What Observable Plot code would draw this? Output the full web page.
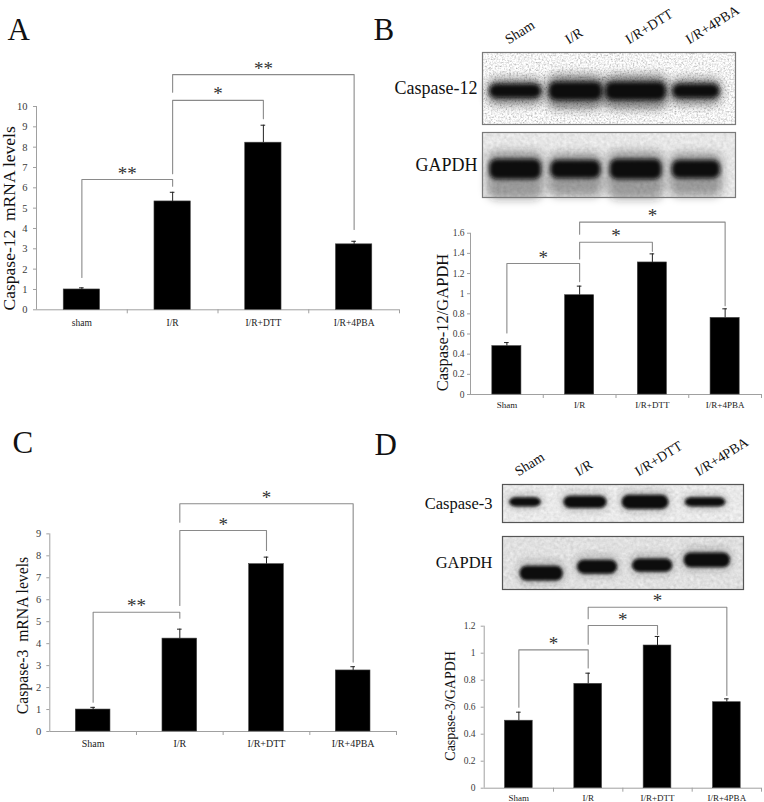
<!DOCTYPE html>
<html><head><meta charset="utf-8">
<script src="https://cdn.jsdelivr.net/npm/d3@7"></script>
<script src="https://cdn.jsdelivr.net/npm/@observablehq/plot@0.6"></script>
<style>
body{margin:0;background:#fff;}
#fig{position:relative;width:764px;height:802px;overflow:hidden;background:#fff;}
</style></head><body><div id="fig"></div>
<script>
// ---------- data ----------
const categoriesA = ["sham", "I/R", "I/R+DTT", "I/R+4PBA"];
const categories = ["Sham", "I/R", "I/R+DTT", "I/R+4PBA"];

// A: Caspase-12 mRNA
const meanA = [1.00, 5.33, 8.22, 3.22];
const seA = [0.08, 0.45, 0.86, 0.15];
const ticksA = [0, 1, 2, 3, 4, 5, 6, 7, 8, 9, 10];
const bracketsA = [
  {a: 0, b: 1, y: 6.41, ya: 1.59, yb: 6.08, label: "**"},
  {a: 1, b: 2, y: 10.3, ya: 6.69, yb: 9.4, label: "*"},
  {a: 1, b: 3, y: 11.57, ya: 10.7, yb: 3.95, label: "**"}
];
// B: Caspase-12/GAPDH
const meanB = [0.48, 0.985, 1.31, 0.76];
const seB = [0.035, 0.09, 0.085, 0.09];
const ticksB = [0, 0.2, 0.4, 0.6, 0.8, 1, 1.2, 1.4, 1.6];
const bracketsB = [
  {a: 0, b: 1, y: 1.30, ya: 0.61, yb: 1.12, label: "*"},
  {a: 1, b: 2, y: 1.51, ya: 1.345, yb: 1.42, label: "*"},
  {a: 1, b: 3, y: 1.71, ya: 1.59, yb: 0.88, label: "*"}
];
// C: Caspase-3 mRNA
const meanC = [1.00, 4.23, 7.62, 2.78];
const seC = [0.10, 0.43, 0.32, 0.17];
const ticksC = [0, 1, 2, 3, 4, 5, 6, 7, 8, 9];
const bracketsC = [
  {a: 0, b: 1, y: 5.43, ya: 1.33, yb: 5.16, label: "**"},
  {a: 1, b: 2, y: 9.15, ya: 5.74, yb: 8.24, label: "*"},
  {a: 1, b: 3, y: 10.37, ya: 9.53, yb: 3.16, label: "*"}
];
// D: Caspase-3/GAPDH
const meanD = [0.50, 0.773, 1.057, 0.637];
const seD = [0.063, 0.079, 0.067, 0.025];
const ticksD = [0, 0.2, 0.4, 0.6, 0.8, 1, 1.2];
const bracketsD = [
  {a: 0, b: 1, y: 1.025, ya: 0.60, yb: 0.89, label: "*"},
  {a: 1, b: 2, y: 1.205, ya: 1.066, yb: 1.138, label: "*"},
  {a: 1, b: 3, y: 1.34, ya: 1.255, yb: 0.687, label: "*"}
];

// Western blot band read-outs (width in lanes, thickness / centre as fraction of strip, lane shift)
const casp12Width = [0.86, 0.88, 1.0, 0.78];
const casp12Thick = [0.19, 0.25, 0.25, 0.19];
const casp12Centre = [0.46, 0.46, 0.46, 0.46];
const gapdhBWidth = [0.86, 0.83, 0.86, 0.80];
const gapdhBThick = [0.31, 0.28, 0.31, 0.28];
const gapdhBCentre = [0.43, 0.43, 0.43, 0.43];
const casp3Width = [0.53, 0.72, 0.78, 0.68];
const casp3Thick = [0.24, 0.32, 0.37, 0.24];
const casp3Centre = [0.53, 0.53, 0.53, 0.53];
const gapdhDWidth = [0.72, 0.67, 0.67, 0.77];
const gapdhDThick = [0.28, 0.26, 0.25, 0.28];
const gapdhDCentre = [0.30, 0.42, 0.45, 0.55];
const gapdhDShift = [0.27, 0.20, 0.12, 0.03];

// ---------- helpers ----------
const SERIF = '"Liberation Serif", "DejaVu Serif", "Times New Roman", serif';
const AXIS = "#a0a0a0";
const BR = "#8a8a8a";
const LANE_ROT = -32;
const fmt = d => String(+d.toFixed(1));
const fig = document.getElementById("fig");

function place(svg, left, top) {
  svg.style.position = "absolute";
  svg.style.left = left + "px";
  svg.style.top = top + "px";
  svg.style.overflow = "visible";
  svg.style.background = "transparent";
  fig.appendChild(svg);
}
function addDefs(svg, markup) {
  const defs = document.createElementNS("http://www.w3.org/2000/svg", "defs");
  defs.innerHTML = markup;
  svg.insertBefore(defs, svg.firstChild);
}

function barPanel(p) {
  const lanePx = (p.axisRight - p.axisX) / 4;
  const frameTop = p.y0 - p.yMax * p.ppu;
  const mt = frameTop - p.top, mb = p.top + p.height - p.y0;
  const ml = p.axisX - p.left, mr = p.left + p.width - p.axisRight;
  const rows = p.mean.map((v, i) => ({i, v, e: v + p.se[i]}));
  const tickLen = 3 / lanePx;
  const capHalf = 2.3 / lanePx;
  const pts = p.brackets.flatMap((b, k) => [
    {k, x: b.a, y: b.ya}, {k, x: b.a, y: b.y}, {k, x: b.b, y: b.y}, {k, x: b.b, y: b.yb}
  ]);
  const topTick = p.ticks[p.ticks.length - 1];
  const marks = [
    Plot.ruleY([0], {x1: -0.5, x2: 3.5, stroke: AXIS}),
    Plot.ruleX([-0.5], {y1: 0, y2: topTick, stroke: AXIS}),
    Plot.ruleY(p.ticks, {y: d => d, x1: -0.5 - tickLen, x2: -0.5, stroke: AXIS}),
    Plot.ruleX([0.5, 1.5, 2.5, 3.5], {x: d => d, y1: 0, y2: -4 / p.ppu, stroke: AXIS}),
    Plot.text(p.ticks, {x: -0.5, y: d => d, text: fmt, textAnchor: "end", dx: p.tickDx, fontSize: p.tickFont, fill: "#3a3a3a"}),
    Plot.text(p.cats, {x: (d, i) => i, y: 0, text: d => d, dy: p.catDy, fontSize: p.catFont, fill: "#222"}),
    Plot.rect(rows, {x1: d => d.i - 0.2, x2: d => d.i + 0.2, y1: 0, y2: "v", fill: "#000", stroke: "#444", strokeWidth: 0.6}),
    Plot.ruleX(rows, {x: "i", y1: "v", y2: "e", stroke: "#222"}),
    Plot.ruleY(rows, {y: "e", x1: d => d.i - capHalf, x2: d => d.i + capHalf, stroke: "#222"}),
    Plot.line(pts, {x: "x", y: "y", z: "k", stroke: BR, strokeWidth: 1.1}),
    Plot.text(p.brackets, {x: d => (d.a + d.b) / 2, y: "y", text: "label", dy: -6, fontSize: p.starFont, fill: "#333"}),
    Plot.text([p.ylabel], {x: -0.5, y: p.labelY, text: d => d, rotate: -90, dx: p.labelDx, fontSize: p.labelFont, fill: "#111"})
  ];
  if (p.letter) marks.push(Plot.text([p.letter.t], {frameAnchor: "top-left", text: d => d, textAnchor: "start", lineAnchor: "top",
    dx: p.letter.x - p.axisX, dy: p.letter.y - frameTop, fontSize: 31, fill: "#111"}));
  const svg = Plot.plot({
    width: p.width, height: p.height,
    marginLeft: ml, marginRight: mr, marginTop: mt, marginBottom: mb,
    x: {domain: [-0.5, 3.5], axis: null},
    y: {domain: [0, p.yMax], axis: null},
    style: {fontFamily: SERIF, background: "transparent", color: "#222"},
    marks
  });
  place(svg, p.left, p.top);
}

function blotStrip(b, id) {
  const [bx0, by0, bx1, by1] = b.box;
  const ml = bx0 - b.left, mr = b.left + b.width - bx1, mt = by0 - b.top, mb = b.top + b.height - by1;
  const bands = b.width_.map((w, i) => ({x: i + (b.shift ? b.shift[i] : 0), w, h: b.thick[i], cy: b.centre[i]}));
  const marks = [
    Plot.frame({fill: b.bg, stroke: "none"}),
    Plot.rect(bands, {x1: d => d.x - d.w / 2 - 0.04, x2: d => d.x + d.w / 2 + 0.04,
      y1: d => d.cy - d.h * b.haloDown, y2: d => d.cy + d.h * 0.9, fill: "#222", fillOpacity: b.haloOpacity, rx: 10}),
    Plot.rect(bands, {x1: d => d.x - d.w / 2, x2: d => d.x + d.w / 2,
      y1: d => d.cy - d.h / 2, y2: d => d.cy + d.h / 2, fill: "#080808", rx: 7}),
    Plot.frame({stroke: b.border, strokeWidth: 1.2}),
    Plot.text([b.rowLabel], {frameAnchor: "left", text: d => d, textAnchor: "end", dx: b.rowDx, fontSize: b.rowFont, fill: "#111"})
  ];
  if (b.laneLabels) marks.push(Plot.text(categories, {x: (d, i) => i, y: 1, text: d => d, rotate: LANE_ROT,
    textAnchor: "start", lineAnchor: "bottom", dx: -7, dy: -8, fontSize: 14, fill: "#111"}));
  if (b.letter) marks.push(Plot.text([b.letter.t], {frameAnchor: "top-left", text: d => d, textAnchor: "start", lineAnchor: "top",
    dx: b.letter.x - bx0, dy: b.letter.y - by0, fontSize: 31, fill: "#111"}));
  const svg = Plot.plot({
    width: b.width, height: b.height,
    marginLeft: ml, marginRight: mr, marginTop: mt, marginBottom: mb,
    x: {domain: b.laneDomain, axis: null},
    y: {domain: [0, 1], axis: null},
    style: {fontFamily: SERIF, background: "transparent", color: "#111"},
    marks
  });
  const lo = b.noiseLo, hi = b.noiseHi;
  addDefs(svg, `
    <filter id="nz${id}" x="0" y="0" width="1" height="1">
      <feTurbulence type="fractalNoise" baseFrequency="${b.noiseFreq}" numOctaves="2" seed="${id * 7 + 3}" result="n"/>
      <feColorMatrix in="n" type="matrix" values="0.33 0.33 0.33 0 0  0.33 0.33 0.33 0 0  0.33 0.33 0.33 0 0  0 0 0 0 1" result="g"/>
      <feComponentTransfer in="g" result="c">
        <feFuncR type="linear" slope="${hi}" intercept="${lo}"/>
        <feFuncG type="linear" slope="${hi}" intercept="${lo}"/>
        <feFuncB type="linear" slope="${hi}" intercept="${lo}"/>
      </feComponentTransfer>
      <feComposite in="c" in2="SourceGraphic" operator="in"/>
    </filter>
    <filter id="bh${id}" x="-50%" y="-150%" width="200%" height="400%"><feGaussianBlur stdDeviation="${b.haloBlur}"/></filter>
    <filter id="bc${id}" x="-50%" y="-150%" width="200%" height="400%"><feGaussianBlur stdDeviation="${b.coreBlur}"/></filter>`);
  const frames = svg.querySelectorAll('[aria-label="frame"]');
  if (frames[0]) frames[0].setAttribute("filter", `url(#nz${id})`);
  const rects = svg.querySelectorAll('[aria-label="rect"]');
  if (rects[0]) rects[0].setAttribute("filter", `url(#bh${id})`);
  if (rects[1]) rects[1].setAttribute("filter", `url(#bc${id})`);
  place(svg, b.left, b.top);
}

// ---------- panels ----------
barPanel({cats: categoriesA, mean: meanA, se: seA, ticks: ticksA, brackets: bracketsA,
  left: 0, top: 0, width: 400, height: 335, axisX: 36, axisRight: 399, y0: 309.3, ppu: 20.33, yMax: 12.6,
  tickFont: 10.5, tickDx: -9, catFont: 9.5, catDy: 12.7, starFont: 19,
  ylabel: "Caspase-12  mRNA levels", labelY: 4.5, labelDx: -27.5, labelFont: 17.5,
  letter: {t: "A", x: 7, y: 17}});

barPanel({cats: categories, mean: meanB, se: seB, ticks: ticksB, brackets: bracketsB,
  left: 382, top: 200, width: 382, height: 215, axisX: 470, axisRight: 761, y0: 394, ppu: 100.8, yMax: 1.85,
  tickFont: 9.5, tickDx: -6, catFont: 9, catDy: 11, starFont: 19,
  ylabel: "Caspase-12/GAPDH", labelY: 0.714, labelDx: -28, labelFont: 16.5});

barPanel({cats: categories, mean: meanC, se: seC, ticks: ticksC, brackets: bracketsC,
  left: 0, top: 420, width: 400, height: 340, axisX: 49.3, axisRight: 396, y0: 731, ppu: 21.96, yMax: 11.0,
  tickFont: 10.5, tickDx: -8.6, catFont: 10, catDy: 12.3, starFont: 19,
  ylabel: "Caspase-3  mRNA levels", labelY: 4.37, labelDx: -27.3, labelFont: 15.7,
  letter: {t: "C", x: 12, y: 430}});

barPanel({cats: categories, mean: meanD, se: seD, ticks: ticksD, brackets: bracketsD,
  left: 382, top: 590, width: 382, height: 212, axisX: 483.7, axisRight: 761, y0: 787.7, ppu: 135, yMax: 1.4,
  tickFont: 9.5, tickDx: -8.7, catFont: 9, catDy: 10.3, starFont: 19,
  ylabel: "Caspase-3/GAPDH", labelY: 0.61, labelDx: -33.7, labelFont: 14});

blotStrip({left: 360, top: 0, width: 404, height: 126, box: [482, 52, 735, 124], laneDomain: [-0.55, 3.65],
  width_: casp12Width, thick: casp12Thick, centre: casp12Centre,
  bg: "#ddd", border: "#7a7a7a", noiseFreq: 0.55, noiseLo: -0.05, noiseHi: 1.9,
  haloOpacity: 0.55, haloDown: 1.0, haloBlur: 4.5, coreBlur: 2,
  rowLabel: "Caspase-12", rowFont: 18, rowDx: -5, laneLabels: true, letter: {t: "B", x: 373, y: 17}}, 1);

blotStrip({left: 360, top: 127, width: 404, height: 72, box: [482, 132, 735, 197], laneDomain: [-0.55, 3.65],
  width_: gapdhBWidth, thick: gapdhBThick, centre: gapdhBCentre,
  bg: "#c8c8c8", border: "#7a7a7a", noiseFreq: 0.3, noiseLo: 0.55, noiseHi: 0.5,
  haloOpacity: 0.4, haloDown: 1.5, haloBlur: 4.5, coreBlur: 2.2,
  rowLabel: "GAPDH", rowFont: 18, rowDx: -5}, 2);

blotStrip({left: 360, top: 420, width: 404, height: 104, box: [502, 484, 743, 522], laneDomain: [-0.383, 3.633],
  width_: casp3Width, thick: casp3Thick, centre: casp3Centre,
  bg: "#cdcdcd", border: "#555", noiseFreq: 0.3, noiseLo: 0.57, noiseHi: 0.5,
  haloOpacity: 0.2, haloDown: 0.8, haloBlur: 3, coreBlur: 1.6,
  rowLabel: "Caspase-3", rowFont: 16.5, rowDx: -10, laneLabels: true, letter: {t: "D", x: 374, y: 432}}, 3);

blotStrip({left: 360, top: 526, width: 404, height: 66, box: [502, 536, 743, 589], laneDomain: [-0.383, 3.633],
  width_: gapdhDWidth, thick: gapdhDThick, centre: gapdhDCentre, shift: gapdhDShift,
  bg: "#c0c0c0", border: "#555", noiseFreq: 0.3, noiseLo: 0.5, noiseHi: 0.5,
  haloOpacity: 0.2, haloDown: 0.8, haloBlur: 3, coreBlur: 1.8,
  rowLabel: "GAPDH", rowFont: 16.5, rowDx: -10}, 4);
</script>
</body></html>
